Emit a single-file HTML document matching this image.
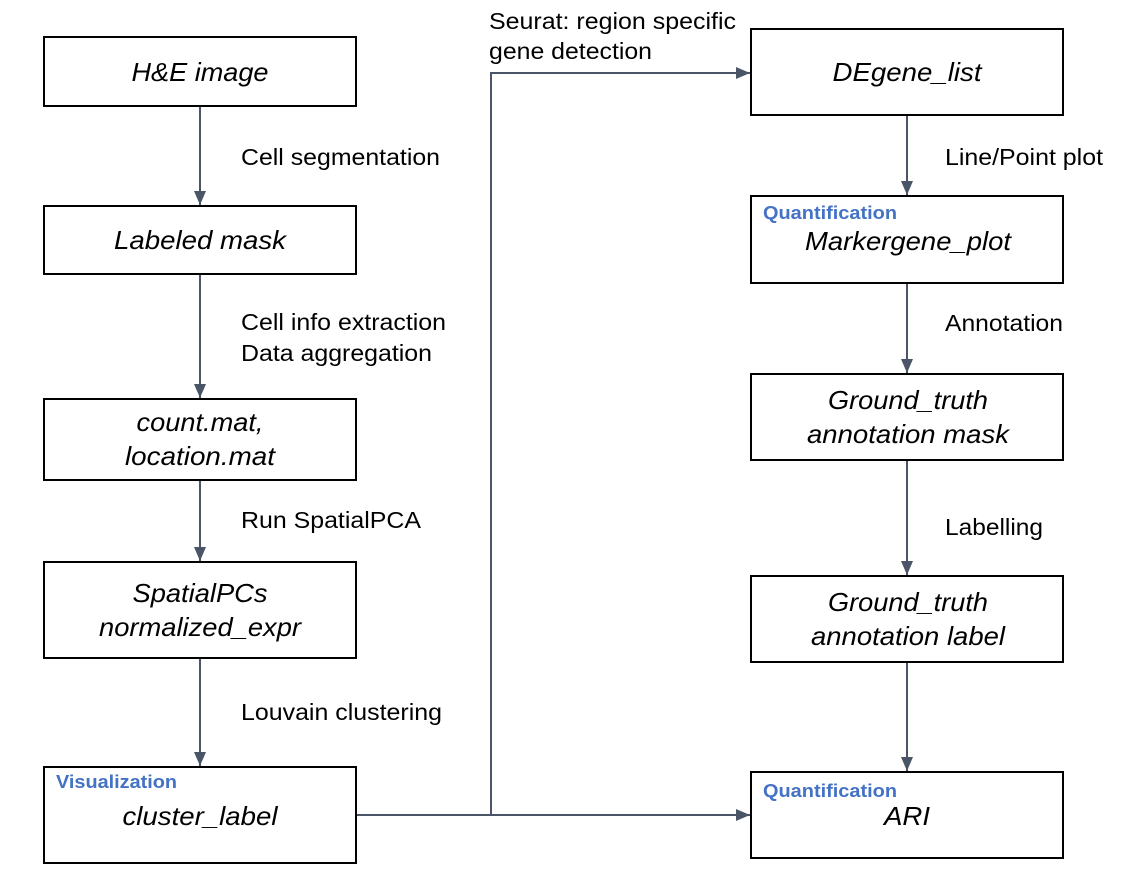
<!DOCTYPE html>
<html><head><meta charset="utf-8"><style>
html,body{margin:0;padding:0;background:#fff}
svg{display:block}
.b{fill:#fff;stroke:#000;stroke-width:2}
.t{font-family:"Liberation Sans",sans-serif;font-size:26px;font-style:italic;fill:#000;text-anchor:middle;dominant-baseline:central}
.l{font-family:"Liberation Sans",sans-serif;font-size:23px;fill:#000;dominant-baseline:central}
.q{font-family:"Liberation Sans",sans-serif;font-size:18px;font-weight:bold;fill:#4472c4;dominant-baseline:central}
.c{stroke:#4a5568;stroke-width:2;fill:none}
</style></head><body>
<svg width="1136" height="884" viewBox="0 0 1136 884">
<defs><marker id="a" markerWidth="14" markerHeight="12" refX="14" refY="6" orient="auto" markerUnits="userSpaceOnUse"><path d="M0,0 L14,6 L0,12 Z" fill="#4a5568"/></marker></defs>
<g class="c" marker-end="url(#a)">
<line x1="200" y1="107" x2="200" y2="205"/>
<line x1="200" y1="275" x2="200" y2="398"/>
<line x1="200" y1="481" x2="200" y2="561"/>
<line x1="200" y1="659" x2="200" y2="766"/>
<line x1="907" y1="116" x2="907" y2="195"/>
<line x1="907" y1="284" x2="907" y2="373"/>
<line x1="907" y1="461" x2="907" y2="575"/>
<line x1="907" y1="663" x2="907" y2="771"/>
<line x1="357" y1="815" x2="750" y2="815"/>
<polyline points="491,815 491,73 750,73"/>
</g>
<rect class="b" x="44" y="37" width="312" height="69"/>
<rect class="b" x="44" y="206" width="312" height="68"/>
<rect class="b" x="44" y="399" width="312" height="81"/>
<rect class="b" x="44" y="562" width="312" height="96"/>
<rect class="b" x="44" y="767" width="312" height="96"/>
<rect class="b" x="751" y="29" width="312" height="86"/>
<rect class="b" x="751" y="196" width="312" height="87"/>
<rect class="b" x="751" y="374" width="312" height="86"/>
<rect class="b" x="751" y="576" width="312" height="86"/>
<rect class="b" x="751" y="772" width="312" height="86"/>
<text class="t" x="200" y="72" textLength="137" lengthAdjust="spacingAndGlyphs">H&amp;E image</text>
<text class="t" x="200" y="240" textLength="172" lengthAdjust="spacingAndGlyphs">Labeled mask</text>
<text class="t" x="200" y="422" textLength="127" lengthAdjust="spacingAndGlyphs">count.mat,</text>
<text class="t" x="200" y="456" textLength="150" lengthAdjust="spacingAndGlyphs">location.mat</text>
<text class="t" x="200" y="593" textLength="135" lengthAdjust="spacingAndGlyphs">SpatialPCs</text>
<text class="t" x="200" y="627" textLength="202" lengthAdjust="spacingAndGlyphs">normalized_expr</text>
<text class="q" x="56" y="782" textLength="121" lengthAdjust="spacingAndGlyphs">Visualization</text>
<text class="t" x="200" y="816" textLength="155" lengthAdjust="spacingAndGlyphs">cluster_label</text>
<text class="t" x="907" y="72" textLength="149" lengthAdjust="spacingAndGlyphs">DEgene_list</text>
<text class="q" x="763" y="213" textLength="134" lengthAdjust="spacingAndGlyphs">Quantification</text>
<text class="t" x="908" y="241" textLength="206" lengthAdjust="spacingAndGlyphs">Markergene_plot</text>
<text class="t" x="908" y="400" textLength="160" lengthAdjust="spacingAndGlyphs">Ground_truth</text>
<text class="t" x="908" y="434" textLength="202" lengthAdjust="spacingAndGlyphs">annotation mask</text>
<text class="t" x="908" y="602" textLength="160" lengthAdjust="spacingAndGlyphs">Ground_truth</text>
<text class="t" x="908" y="636" textLength="194" lengthAdjust="spacingAndGlyphs">annotation label</text>
<text class="q" x="763" y="791" textLength="134" lengthAdjust="spacingAndGlyphs">Quantification</text>
<text class="t" x="907" y="816" textLength="46" lengthAdjust="spacingAndGlyphs">ARI</text>
<text class="l" x="241" y="157" textLength="199" lengthAdjust="spacingAndGlyphs">Cell segmentation</text>
<text class="l" x="241" y="322" textLength="205" lengthAdjust="spacingAndGlyphs">Cell info extraction</text>
<text class="l" x="241" y="353" textLength="191" lengthAdjust="spacingAndGlyphs">Data aggregation</text>
<text class="l" x="241" y="520" textLength="180" lengthAdjust="spacingAndGlyphs">Run SpatialPCA</text>
<text class="l" x="241" y="712" textLength="201" lengthAdjust="spacingAndGlyphs">Louvain clustering</text>
<text class="l" x="945" y="157" textLength="158" lengthAdjust="spacingAndGlyphs">Line/Point plot</text>
<text class="l" x="945" y="323" textLength="118" lengthAdjust="spacingAndGlyphs">Annotation</text>
<text class="l" x="945" y="527" textLength="98" lengthAdjust="spacingAndGlyphs">Labelling</text>
<text class="l" x="489" y="21" textLength="247" lengthAdjust="spacingAndGlyphs">Seurat: region specific</text>
<text class="l" x="489" y="51" textLength="163" lengthAdjust="spacingAndGlyphs">gene detection</text>
</svg>
</body></html>
